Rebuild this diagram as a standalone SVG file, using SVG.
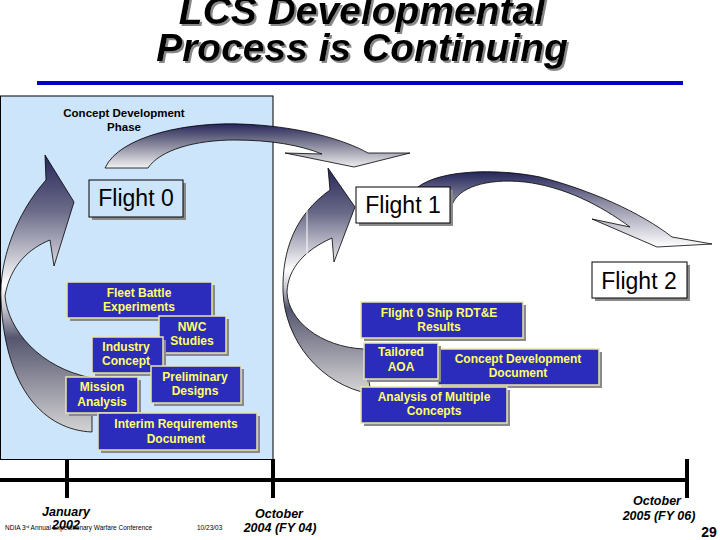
<svg xmlns="http://www.w3.org/2000/svg" width="720" height="540" viewBox="0 0 720 540">
<defs>
<style>
.title{font-family:"Liberation Sans",Arial,sans-serif;font-weight:bold;font-style:italic;font-size:39px;fill:#000;text-anchor:middle}
.bb{fill:#2c2cbc;stroke:#e6e6a8;stroke-width:1.5}
.sh{fill:#8a8a8a}
.bt{font-family:"Liberation Sans",Arial,sans-serif;font-weight:bold;font-size:12px;fill:#ffff66;text-anchor:middle}
.fb{stroke:#000;stroke-width:1}
.ft{font-family:"Liberation Sans",Arial,sans-serif;font-size:23px;fill:#000;text-anchor:middle}
.tl{font-family:"Liberation Sans",Arial,sans-serif;font-weight:bold;font-style:italic;font-size:12.5px;fill:#000;text-anchor:middle}
.small{font-family:"Liberation Sans",Arial,sans-serif;font-size:6.5px;fill:#000}
.arr{stroke:#000;stroke-width:0.8}
</style>
<filter id="tsh" x="-5%" y="-20%" width="110%" height="150%">
<feDropShadow dx="2" dy="2" stdDeviation="0.6" flood-color="#888"/>
</filter>
<linearGradient id="gA" x1="0" y1="0" x2="0" y2="1">
<stop offset="0" stop-color="#25255a"/>
<stop offset="0.4" stop-color="#77778f"/>
<stop offset="1" stop-color="#f2f2f2"/>
</linearGradient>
<linearGradient id="gB" x1="0" y1="0" x2="0" y2="1">
<stop offset="0" stop-color="#27275a"/>
<stop offset="0.2" stop-color="#6a6a88"/>
<stop offset="0.47" stop-color="#ffffff"/>
<stop offset="0.55" stop-color="#c8c8d2"/>
<stop offset="0.66" stop-color="#55556f"/>
<stop offset="1" stop-color="#d4d4d4"/>
</linearGradient>
<linearGradient id="gC" x1="0" y1="0" x2="0" y2="1">
<stop offset="0" stop-color="#27275a"/>
<stop offset="0.2" stop-color="#6a6a88"/>
<stop offset="0.45" stop-color="#ffffff"/>
<stop offset="0.53" stop-color="#c8c8d2"/>
<stop offset="0.62" stop-color="#55556f"/>
<stop offset="1" stop-color="#d8d8d8"/>
</linearGradient>
<linearGradient id="gD" x1="0" y1="0" x2="0" y2="1">
<stop offset="0" stop-color="#25255a"/>
<stop offset="0.4" stop-color="#8a8aa2"/>
<stop offset="1" stop-color="#ffffff"/>
</linearGradient>
</defs>
<rect width="720" height="540" fill="#fff"/>

<g id="title" filter="url(#tsh)">
<text class="title" x="362" y="24">LCS Developmental</text>
<text class="title" x="362" y="61">Process is Continuing</text>
</g>
<line x1="37" y1="83" x2="683" y2="83" stroke="#0000c8" stroke-width="4"/>

<g id="phase-panel">
<rect x="0.5" y="96" width="272.5" height="363.5" fill="#cce5fa" stroke="#000" stroke-width="1"/>
<text font-family="Liberation Sans, Arial, sans-serif" font-weight="bold" font-size="11.5" text-anchor="middle" x="124" y="117">Concept Development</text>
<text font-family="Liberation Sans, Arial, sans-serif" font-weight="bold" font-size="11.5" text-anchor="middle" x="124" y="131">Phase</text>
</g>

<g id="connectors">
<path class="arr" fill="url(#gA)" d="M105,168 C120,135 190,122 240,124 C300,126 345,140 368,153 L410,153 L354,167 L285,153 L322,154 C300,145 270,140 235,140 C195,140 160,150 148,168 Z"/>
<path class="arr" fill="url(#gB)" d="M45,155 L74,202 L54,266 L50,240 C30,248 10,265 5,296 C8,330 40,368 92,378 L92,432 C45,430 5,390 1,300 C-1,262 15,215 46,180 Z"/>
<path class="arr" fill="url(#gC)" d="M328,168 L355,207 L334,262 L332,238 C305,250 288,268 287,292 C288,320 320,347 364,349 L371,394 C320,385 285,340 283,292 C282,250 295,215 330,190 Z"/>
<line x1="307" y1="207" x2="307" y2="255" stroke="#fff" stroke-width="1"/>
<path class="arr" fill="url(#gD)" d="M418,187 C440,170 495,168 540,177 C590,190 640,212 672,237 L712,244 L657,247 L592,219 L630,227 C600,205 565,187 525,182 C485,178 458,188 452,205 L420,205 Z"/>
</g>

<g id="flight0">
<rect class="sh" x="92" y="183" width="94" height="37"/>
<rect class="fb" x="89" y="180" width="94" height="37" fill="#cce5fa"/>
<text class="ft" x="136" y="206">Flight 0</text>
</g>
<g id="flight1">
<rect class="sh" x="359" y="190" width="94" height="36"/>
<rect class="fb" x="356" y="187" width="94" height="36" fill="#fff"/>
<text class="ft" x="403" y="213">Flight 1</text>
</g>
<g id="flight2">
<rect class="sh" x="595" y="265" width="95" height="36"/>
<rect class="fb" x="592" y="262" width="95" height="36" fill="#fff"/>
<text class="ft" x="639" y="289">Flight 2</text>
</g>

<g id="fleet-battle">
<rect class="sh" x="70" y="285" width="145" height="36"/>
<rect class="bb" x="67" y="282" width="145" height="36"/>
<text class="bt" x="139" y="297">Fleet Battle</text>
<text class="bt" x="139" y="311">Experiments</text>
</g>
<g id="nwc">
<rect class="sh" x="162" y="319" width="67" height="37"/>
<rect class="bb" x="159" y="316" width="67" height="37"/>
<text class="bt" x="192" y="331">NWC</text>
<text class="bt" x="192" y="345">Studies</text>
</g>
<g id="industry">
<rect class="sh" x="95" y="340" width="71" height="36"/>
<rect class="bb" x="92" y="337" width="71" height="36"/>
<text class="bt" x="126" y="351">Industry</text>
<text class="bt" x="126" y="365">Concept</text>
</g>
<g id="preliminary">
<rect class="sh" x="154" y="369" width="90" height="37"/>
<rect class="bb" x="151" y="366" width="90" height="37"/>
<text class="bt" x="195" y="381">Preliminary</text>
<text class="bt" x="195" y="395">Designs</text>
</g>
<g id="mission">
<rect class="sh" x="69" y="380" width="72" height="36"/>
<rect class="bb" x="66" y="377" width="72" height="36"/>
<text class="bt" x="102" y="391">Mission</text>
<text class="bt" x="102" y="406">Analysis</text>
</g>
<g id="interim">
<rect class="sh" x="101" y="416" width="159" height="37"/>
<rect class="bb" x="98" y="413" width="159" height="37"/>
<text class="bt" x="176" y="428">Interim Requirements</text>
<text class="bt" x="176" y="443">Document</text>
</g>

<g id="rdte">
<rect class="sh" x="364" y="305" width="162" height="36"/>
<rect class="bb" x="361" y="302" width="162" height="36"/>
<text class="bt" x="439" y="317">Flight 0 Ship RDT&amp;E</text>
<text class="bt" x="439" y="331">Results</text>
</g>
<g id="cdd">
<rect class="sh" x="441" y="352" width="161" height="36"/>
<rect class="bb" x="438" y="349" width="161" height="36"/>
<text class="bt" x="518" y="363">Concept Development</text>
<text class="bt" x="518" y="377">Document</text>
</g>
<g id="aoa">
<rect class="sh" x="367" y="346" width="74" height="36"/>
<rect class="bb" x="364" y="343" width="74" height="36"/>
<text class="bt" x="401" y="356">Tailored</text>
<text class="bt" x="401" y="371">AOA</text>
</g>
<g id="multiple">
<rect class="sh" x="364" y="390" width="146" height="36"/>
<rect class="bb" x="361" y="387" width="146" height="36"/>
<text class="bt" x="434" y="401">Analysis of Multiple</text>
<text class="bt" x="434" y="415">Concepts</text>
</g>

<g id="timeline">
<line x1="0" y1="480" x2="689" y2="480" stroke="#000" stroke-width="4"/>
<line x1="67" y1="459" x2="67" y2="498" stroke="#000" stroke-width="4"/>
<line x1="273" y1="459" x2="273" y2="498" stroke="#000" stroke-width="4"/>
<line x1="687" y1="459" x2="687" y2="498" stroke="#000" stroke-width="4"/>
<text class="tl" x="66" y="516">January</text>
<text class="tl" x="66" y="529">2002</text>
<text class="tl" x="279" y="518">October</text>
<text class="tl" x="280" y="532">2004 (FY 04)</text>
<text class="tl" x="657" y="505">October</text>
<text class="tl" x="659" y="520">2005 (FY 06)</text>
</g>

<g id="footer">
<text class="small" x="5" y="530">NDIA 3<tspan font-size="4" dy="-2">rd</tspan><tspan dy="2"> Annual Expeditionary Warfare Conference</tspan></text>
<text class="small" x="197" y="530">10/23/03</text>
<text font-family="Liberation Sans, Arial, sans-serif" font-weight="bold" font-size="14" text-anchor="middle" x="709" y="537">29</text>
</g>
</svg>
